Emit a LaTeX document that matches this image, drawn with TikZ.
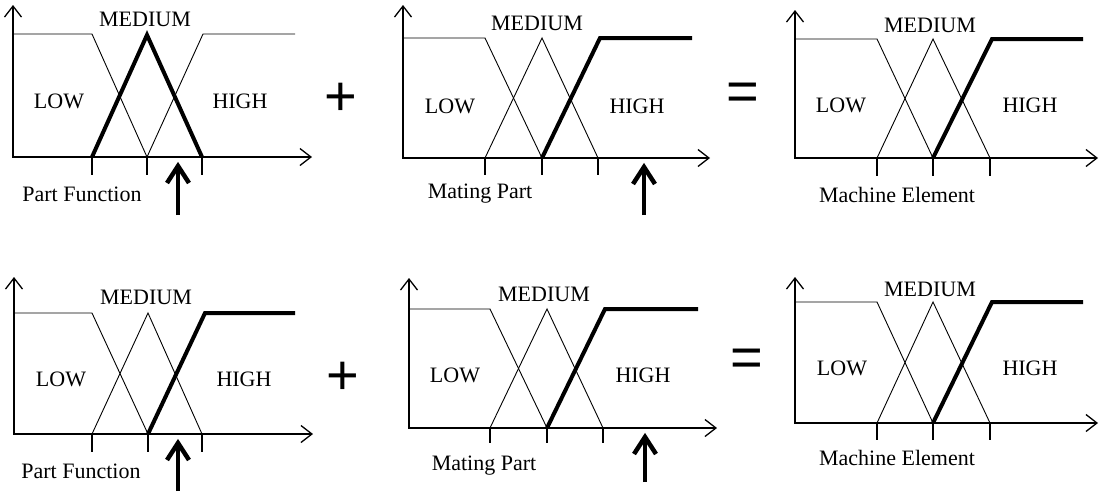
\documentclass[tikz,border=0pt]{standalone}
\usepackage{fontspec}
\setmainfont{Liberation Serif}
\newfontfamily\symfont{Liberation Sans}
\usetikzlibrary{arrows.meta}
\tikzset{
  thinline/.style={line width=0.9pt},
  axisline/.style={line width=1.3pt,{Straight Barb[length=11pt,width=17pt]}-{Straight Barb[length=11pt,width=17pt]}},
  tickline/.style={line width=1.1pt},
  boldline/.style={line width=4pt,line join=miter},
  pointer/.style={line width=4.5pt},
  pointerhead/.style={line width=4.5pt,line join=miter,miter limit=10},
  lbl/.style={inner sep=0pt,anchor=base,font=\fontsize{22}{26}\selectfont},
  opsign/.style={inner sep=0pt,font=\symfont\fontsize{56}{60}\selectfont}
}
\begin{document}
\begin{tikzpicture}[x=1pt,y=-1pt]
\useasboundingbox (0,0) rectangle (1099,491);
\fill[white] (0,0) rectangle (1099,491);

% ---------- Panel 1 (top left) ----------
\coordinate (a1y) at (13,5);
\coordinate (a1o) at (13,157);
\coordinate (a1x) at (312,157);
\draw[axisline] (a1y) -- (a1o) -- (a1x);
\coordinate (l1a) at (92,34);
\coordinate (l1b) at (147,157);
\draw[thinline] (13,34) -- (l1a) -- (l1b);
\coordinate (m1a) at (92,157);
\coordinate (m1p) at (147,35);
\coordinate (m1b) at (202,157);
\draw[boldline] (m1a) -- (m1p) -- (m1b);
\coordinate (h1p) at (203,34);
\draw[thinline] (l1b) -- (h1p) -- (295,34);
\foreach \t in {92,147,202} \draw[tickline] (\t,157) -- (\t,175);
\coordinate (i1s) at (178,215);
\coordinate (i1e) at (178,166);
\draw[pointer] (i1s) -- (i1e);
\draw[pointerhead] ([shift={(-11,17)}]i1e) -- (i1e) -- ([shift={(11,17)}]i1e);
\node[lbl] (med1) at (145,26) {MEDIUM};
\node[lbl] (low1) at (59,108) {LOW};
\node[lbl] (high1) at (240,108) {HIGH};
\node[lbl] (name1) at (82,201) {Part Function};
\node[opsign] (plus1) at (341,99) {+};

% ---------- Panel 2 (top middle) ----------
\coordinate (a2y) at (403,5);
\coordinate (a2o) at (403,158);
\coordinate (a2x) at (710,158);
\draw[axisline] (a2y) -- (a2o) -- (a2x);
\coordinate (l2a) at (485,38);
\coordinate (l2b) at (542,158);
\draw[thinline] (403,38) -- (l2a) -- (l2b);
\coordinate (m2a) at (485,158);
\coordinate (m2p) at (542,38);
\coordinate (m2b) at (598,158);
\draw[thinline] (m2a) -- (m2p) -- (m2b);
\coordinate (h2p) at (600,38);
\draw[boldline] (l2b) -- (h2p) -- (692,38);
\foreach \t in {485,542,598} \draw[tickline] (\t,158) -- (\t,175);
\coordinate (i2s) at (644,215);
\coordinate (i2e) at (644,167);
\draw[pointer] (i2s) -- (i2e);
\draw[pointerhead] ([shift={(-11,17)}]i2e) -- (i2e) -- ([shift={(11,17)}]i2e);
\node[lbl] (med2) at (537,30) {MEDIUM};
\node[lbl] (low2) at (450,113) {LOW};
\node[lbl] (high2) at (637,113) {HIGH};
\node[lbl] (name2) at (480,198) {Mating Part};
\node[opsign] (eq1) at (743,97) {=};

% ---------- Panel 3 (top right) ----------
\coordinate (a3y) at (795,10);
\coordinate (a3o) at (795,158);
\coordinate (a3x) at (1098,158);
\draw[axisline] (a3y) -- (a3o) -- (a3x);
\coordinate (l3a) at (877,39);
\coordinate (l3b) at (933,158);
\draw[thinline] (795,39) -- (l3a) -- (l3b);
\coordinate (m3a) at (877,158);
\coordinate (m3p) at (933,39);
\coordinate (m3b) at (990,158);
\draw[thinline] (m3a) -- (m3p) -- (m3b);
\coordinate (h3p) at (992,39);
\draw[boldline] (l3b) -- (h3p) -- (1083,39);
\foreach \t in {877,933,990} \draw[tickline] (\t,158) -- (\t,176);
\node[lbl] (med3) at (930,32) {MEDIUM};
\node[lbl] (low3) at (841,112) {LOW};
\node[lbl] (high3) at (1030,112) {HIGH};
\node[lbl] (name3) at (897,202) {Machine Element};

% ---------- Panel 4 (bottom left) ----------
\coordinate (a4y) at (14,277);
\coordinate (a4o) at (14,434);
\coordinate (a4x) at (313,434);
\draw[axisline] (a4y) -- (a4o) -- (a4x);
\coordinate (l4a) at (92,313);
\coordinate (l4b) at (148,434);
\draw[thinline] (14,313) -- (l4a) -- (l4b);
\coordinate (m4a) at (92,434);
\coordinate (m4p) at (148,313);
\coordinate (m4b) at (202,434);
\draw[thinline] (m4a) -- (m4p) -- (m4b);
\coordinate (h4p) at (205,313);
\draw[boldline] (l4b) -- (h4p) -- (295,313);
\foreach \t in {92,148,202} \draw[tickline] (\t,434) -- (\t,452);
\coordinate (i4s) at (178,491);
\coordinate (i4e) at (178,443);
\draw[pointer] (i4s) -- (i4e);
\draw[pointerhead] ([shift={(-11,17)}]i4e) -- (i4e) -- ([shift={(11,17)}]i4e);
\node[lbl] (med4) at (146,304) {MEDIUM};
\node[lbl] (low4) at (61,386) {LOW};
\node[lbl] (high4) at (244,386) {HIGH};
\node[lbl] (name4) at (81,478) {Part Function};
\node[opsign] (plus2) at (343,378) {+};

% ---------- Panel 5 (bottom middle) ----------
\coordinate (a5y) at (409,278);
\coordinate (a5o) at (409,428);
\coordinate (a5x) at (717,428);
\draw[axisline] (a5y) -- (a5o) -- (a5x);
\coordinate (l5a) at (490,309);
\coordinate (l5b) at (547,428);
\draw[thinline] (409,309) -- (l5a) -- (l5b);
\coordinate (m5a) at (490,428);
\coordinate (m5p) at (547,309);
\coordinate (m5b) at (603,428);
\draw[thinline] (m5a) -- (m5p) -- (m5b);
\coordinate (h5p) at (605,309);
\draw[boldline] (l5b) -- (h5p) -- (698,309);
\foreach \t in {490,547,603} \draw[tickline] (\t,428) -- (\t,443);
\coordinate (i5s) at (645,482);
\coordinate (i5e) at (645,437);
\draw[pointer] (i5s) -- (i5e);
\draw[pointerhead] ([shift={(-11,17)}]i5e) -- (i5e) -- ([shift={(11,17)}]i5e);
\node[lbl] (med5) at (544,301) {MEDIUM};
\node[lbl] (low5) at (455,382) {LOW};
\node[lbl] (high5) at (643,382) {HIGH};
\node[lbl] (name5) at (484,470) {Mating Part};
\node[opsign] (eq2) at (747,363) {=};

% ---------- Panel 6 (bottom right) ----------
\coordinate (a6y) at (795,277);
\coordinate (a6o) at (795,423);
\coordinate (a6x) at (1098,423);
\draw[axisline] (a6y) -- (a6o) -- (a6x);
\coordinate (l6a) at (877,302);
\coordinate (l6b) at (933,423);
\draw[thinline] (795,302) -- (l6a) -- (l6b);
\coordinate (m6a) at (877,423);
\coordinate (m6p) at (933,302);
\coordinate (m6b) at (990,423);
\draw[thinline] (m6a) -- (m6p) -- (m6b);
\coordinate (h6p) at (992,302);
\draw[boldline] (l6b) -- (h6p) -- (1083,302);
\foreach \t in {877,933,990} \draw[tickline] (\t,423) -- (\t,440);
\node[lbl] (med6) at (930,296) {MEDIUM};
\node[lbl] (low6) at (842,375) {LOW};
\node[lbl] (high6) at (1030,375) {HIGH};
\node[lbl] (name6) at (897,465) {Machine Element};
\end{tikzpicture}
\end{document}
